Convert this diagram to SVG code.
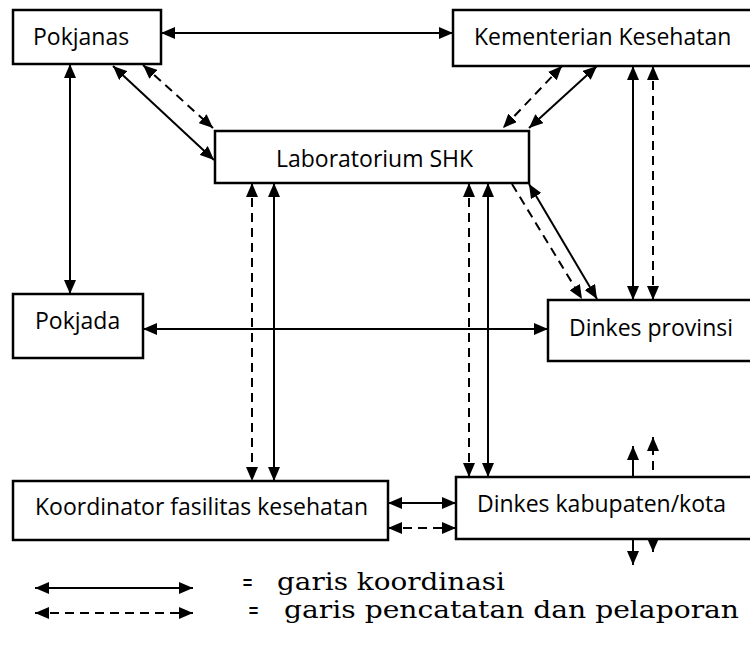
<svg xmlns="http://www.w3.org/2000/svg" width="750" height="647" viewBox="0 0 750 647">
<defs>
<style>
.box{fill:#fff;stroke:#000;stroke-width:2.5}
.lbl{font-family:"Open Sans","Noto Sans",sans-serif;font-size:23px;fill:#000}
.leg{font-family:"DejaVu Serif","Liberation Serif",serif;font-size:24px;fill:#000}
.c{stroke:#000;stroke-width:2;fill:none}
.s{marker-start:url(#ah);marker-end:url(#ah)}
.e{marker-end:url(#ah)}
.d{stroke-dasharray:9 6}
</style>
<marker id="ah" viewBox="0 0 14 12" refX="14" refY="6" markerWidth="14" markerHeight="12" markerUnits="userSpaceOnUse" orient="auto-start-reverse">
<path d="M0,0 L14,6 L0,12 z" fill="#000"/>
</marker>
</defs>
<rect width="750" height="647" fill="#fff"/>
<g id="connectors">
<line class="c s" x1="161" y1="33" x2="453" y2="33"/>
<line class="c s" x1="70" y1="64" x2="70" y2="294"/>
<line class="c s" x1="113" y1="66" x2="214" y2="160"/>
<line class="c s d" x1="143" y1="65" x2="213" y2="128"/>
<line class="c s d" x1="562" y1="66" x2="503" y2="128"/>
<line class="c s" x1="597" y1="66" x2="529" y2="128"/>
<line class="c s" x1="633" y1="66" x2="633" y2="300"/>
<line class="c s d" x1="653" y1="66" x2="653" y2="300"/>
<line class="c e d" x1="512" y1="184" x2="582" y2="299"/>
<line class="c s" x1="529" y1="184" x2="597" y2="299"/>
<line class="c s" x1="143" y1="329" x2="548" y2="329"/>
<line class="c s d" x1="252" y1="183" x2="252" y2="481"/>
<line class="c s" x1="274" y1="183" x2="274" y2="481"/>
<line class="c s d" x1="469" y1="183" x2="469" y2="477"/>
<line class="c s" x1="488" y1="183" x2="488" y2="477"/>
<line class="c s" x1="388" y1="503" x2="456" y2="503"/>
<line class="c s d" x1="388" y1="528" x2="456" y2="528"/>
<line class="c e" x1="633" y1="477" x2="633" y2="446"/>
<line class="c e d" x1="653" y1="470" x2="653" y2="437"/>
<line class="c e" x1="633" y1="539" x2="633" y2="565"/>
<line class="c e" x1="653" y1="539" x2="653" y2="552"/>
</g>
<g id="pokjanas"><rect class="box" x="13" y="10" width="148" height="54"/><text class="lbl" x="33" y="45">Pokjanas</text></g>
<g id="kemenkes"><rect class="box" x="453" y="10" width="300" height="56"/><text class="lbl" x="474" y="45">Kementerian Kesehatan</text></g>
<g id="lab"><rect class="box" x="215" y="131" width="314" height="52"/><text class="lbl" x="276" y="167">Laboratorium SHK</text></g>
<g id="pokjada"><rect class="box" x="13" y="294" width="130" height="64"/><text class="lbl" x="35" y="329">Pokjada</text></g>
<g id="dinkes-prov"><rect class="box" x="548" y="300" width="205" height="61"/><text class="lbl" x="569" y="336">Dinkes provinsi</text></g>
<g id="koordinator"><rect class="box" x="13" y="481" width="375" height="59"/><text class="lbl" x="35" y="515">Koordinator fasilitas kesehatan</text></g>
<g id="dinkes-kab"><rect class="box" x="456" y="477" width="297" height="62"/><text class="lbl" x="477" y="512">Dinkes kabupaten/kota</text></g>
<g id="legend">
<line class="c s" x1="35" y1="588" x2="193" y2="588"/>
<line class="c s d" x1="35" y1="613" x2="193" y2="613"/>
<text class="leg" x="242" y="590" textLength="11" lengthAdjust="spacingAndGlyphs">=</text>
<text class="leg" x="277" y="590" textLength="228" lengthAdjust="spacingAndGlyphs">garis koordinasi</text>
<text class="leg" x="248" y="618" textLength="11" lengthAdjust="spacingAndGlyphs">=</text>
<text class="leg" x="284" y="618" textLength="455" lengthAdjust="spacingAndGlyphs">garis pencatatan dan pelaporan</text>
</g>
</svg>
